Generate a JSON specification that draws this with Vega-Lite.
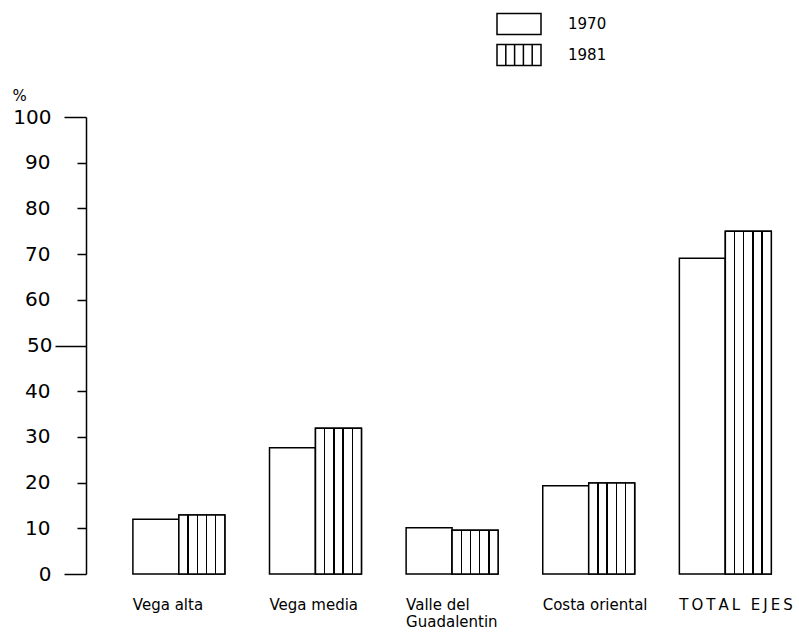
{
  "$schema": "https://vega.github.io/schema/vega-lite/v6.json",
  "width": 704,
  "height": 457,
  "autosize": {"type": "none"},
  "padding": {"left": 86, "top": 117, "right": 9, "bottom": 59},
  "background": "white",
  "config": {
    "view": {"stroke": null},
    "font": "DejaVu Sans"
  },
  "data": {
    "values": [
      {"region": "Vega alta", "year": "1970", "pct": 12.0},
      {"region": "Vega alta", "year": "1981", "pct": 12.9},
      {"region": "Vega media", "year": "1970", "pct": 27.6},
      {"region": "Vega media", "year": "1981", "pct": 31.9},
      {"region": "Valle del Guadalentin", "year": "1970", "pct": 10.1},
      {"region": "Valle del Guadalentin", "year": "1981", "pct": 9.6},
      {"region": "Costa oriental", "year": "1970", "pct": 19.3},
      {"region": "Costa oriental", "year": "1981", "pct": 19.9},
      {"region": "TOTAL EJES", "year": "1970", "pct": 69.1},
      {"region": "TOTAL EJES", "year": "1981", "pct": 75.0}
    ]
  },
  "encoding": {
    "x": {
      "field": "region",
      "type": "nominal",
      "sort": null,
      "title": null,
      "scale": {"paddingInner": 0.327, "paddingOuter": 0.24, "align": 0.715},
      "axis": {
        "domain": false,
        "ticks": false,
        "labelAngle": 0,
        "labelAlign": "left",
        "labelBaseline": "top",
        "labelOffset": -46,
        "labelPadding": 23,
        "labelFontSize": 15,
        "labelColor": "black",
        "labelLineHeight": 17,
        "labelOverlap": false,
        "labelBound": false,
        "labelLimit": 300,
        "labelExpr": "datum.value == 'Valle del Guadalentin' ? ['Valle  del', 'Guadalentin'] : datum.value == 'TOTAL EJES' ? 'T\u2009O\u2009T\u2009A\u2009L\u2009\u2009 E\u2009J\u2009E\u2009S' : datum.value"
      }
    },
    "xOffset": {"field": "year", "type": "nominal", "scale": {"domain": ["1970", "1981"], "paddingInner": 0, "paddingOuter": 0}},
    "y": {
      "field": "pct",
      "type": "quantitative",
      "scale": {"domain": [0, 100], "nice": false},
      "axis": {
        "values": [0, 10, 20, 30, 40, 50, 60, 70, 80, 90, 100],
        "grid": false,
        "domainColor": "black",
        "domainWidth": 1.5,
        "tickColor": "black",
        "tickWidth": 1.5,
        "tickSize": {"condition": [{"test": "datum.value == 50", "value": 31}, {"test": "datum.value == 0 || datum.value == 100", "value": 22}], "value": 9},
        "labelPadding": {"condition": [{"test": "datum.value == 50", "value": 3}, {"test": "datum.value == 0 || datum.value == 100", "value": 13}], "value": 27},
        "labelFontSize": 20,
        "labelColor": "black",
        "title": "%",
        "titleAngle": 0,
        "titleAlign": "left",
        "titleBaseline": "alphabetic",
        "titleX": -74,
        "titleY": -17,
        "titleFontSize": 15,
        "titleFontWeight": "normal",
        "titleColor": "black"
      }
    }
  },
  "layer": [
    {
      "mark": {"type": "bar", "stroke": "black", "strokeWidth": 1.5},
      "encoding": {
        "fill": {
          "field": "year",
          "type": "nominal",
          "scale": {"domain": ["1970", "1981"], "range": ["white", "white"]},
          "legend": {
            "title": null,
            "orient": "none",
            "legendX": 421,
            "legendY": -105,
            "symbolSize": 484,
            "symbolStrokeWidth": 1.5,
            "symbolStrokeColor": "black",
            "labelFontSize": 15,
            "labelColor": "black",
            "labelOffset": 37,
            "rowPadding": 3,
            "encode": {
              "symbols": {
                "update": {
                  "shape": {"signal": "datum.value == '1981' ? 'M-2,-0.95H2V0.95H-2Z M-1.2,-0.95V0.95 M-0.4,-0.95V0.95 M0.4,-0.95V0.95 M1.2,-0.95V0.95' : 'M-2,-0.95H2V0.95H-2Z'"},
                  "fill": {"value": "white"},
                  "stroke": {"value": "black"},
                  "strokeWidth": {"value": 1.5}
                }
              }
            }
          }
        }
      }
    },
    {
      "transform": [{"filter": "datum.year == '1981'"}],
      "mark": {
        "type": "bar",
        "stroke": "black",
        "strokeWidth": 1.5,
        "fill": {
          "gradient": "linear",
          "x1": 0, "y1": 0, "x2": 1, "y2": 0,
          "stops": [
            {"offset": 0, "color": "white"},
            {"offset": 0.185, "color": "white"},
            {"offset": 0.185, "color": "black"},
            {"offset": 0.215, "color": "black"},
            {"offset": 0.215, "color": "white"},
            {"offset": 0.385, "color": "white"},
            {"offset": 0.385, "color": "black"},
            {"offset": 0.415, "color": "black"},
            {"offset": 0.415, "color": "white"},
            {"offset": 0.585, "color": "white"},
            {"offset": 0.585, "color": "black"},
            {"offset": 0.615, "color": "black"},
            {"offset": 0.615, "color": "white"},
            {"offset": 0.785, "color": "white"},
            {"offset": 0.785, "color": "black"},
            {"offset": 0.815, "color": "black"},
            {"offset": 0.815, "color": "white"},
            {"offset": 1, "color": "white"}
          ]
        }
      }
    }
  ]
}
